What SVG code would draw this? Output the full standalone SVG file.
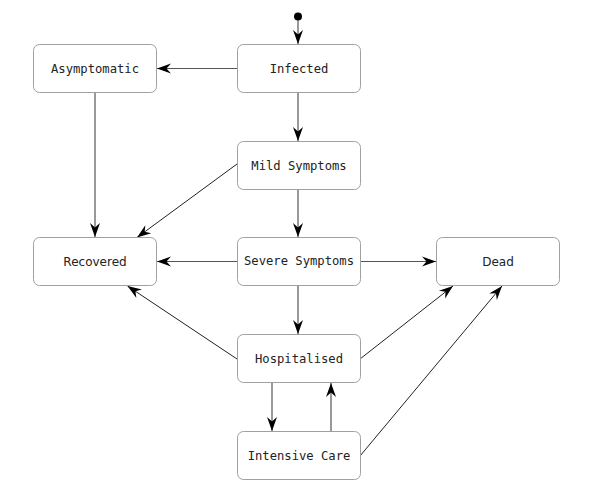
<svg xmlns="http://www.w3.org/2000/svg" width="589" height="498" viewBox="0 0 589 498">
<style>
.box{fill:#fff;stroke:#a0a0a0;stroke-width:1}
.t{font-family:"DejaVu Sans Mono","Liberation Mono",monospace;font-size:12.2px;fill:#222;text-anchor:middle}
.s{font-family:"DejaVu Sans","Liberation Sans",sans-serif;font-size:12px;fill:#222;text-anchor:middle}
.e{fill:none;stroke:#555;stroke-width:1.2;marker-end:url(#ah)}
.e2{fill:none;stroke:#222;stroke-width:1;marker-end:url(#ah)}
</style>
<defs>
<marker id="ah" markerUnits="userSpaceOnUse" markerWidth="16" markerHeight="12" viewBox="-15 -6 16 12" refX="0" refY="0" orient="auto">
<path d="M0,0 L-14,-5 L-9.5,0 L-14,5 Z" fill="#000"/>
</marker>
</defs>
<g id="connectors">
<circle cx="298" cy="16.5" r="4" fill="#000"/>
<line class="e" x1="298" y1="20" x2="298" y2="44"/>
<line class="e" x1="237" y1="68.5" x2="157" y2="68.5"/>
<line class="e" x1="298" y1="93" x2="298" y2="141"/>
<line class="e" x1="95" y1="93" x2="95" y2="237"/>
<line class="e2" x1="237" y1="164" x2="137" y2="237.5"/>
<line class="e" x1="298" y1="190" x2="298" y2="237"/>
<line class="e" x1="237" y1="261.5" x2="157" y2="261.5"/>
<line class="e" x1="360" y1="261.5" x2="436" y2="261.5"/>
<line class="e" x1="298" y1="286" x2="298" y2="334"/>
<line class="e2" x1="237" y1="359" x2="127.5" y2="286"/>
<line class="e2" x1="360" y1="359" x2="453" y2="286"/>
<line class="e" x1="272" y1="383" x2="272" y2="431"/>
<line class="e" x1="331" y1="431" x2="331" y2="383"/>
<line class="e2" x1="360" y1="456" x2="502" y2="286"/>
</g>
<g id="infected"><rect class="box" x="237.5" y="44.5" width="123" height="48" rx="6"/><text class="t" x="299" y="72.5">Infected</text></g>
<g id="asymptomatic"><rect class="box" x="33.5" y="44.5" width="123" height="48" rx="6"/><text class="t" x="95" y="72.5">Asymptomatic</text></g>
<g id="mild"><rect class="box" x="237.5" y="141.5" width="123" height="48" rx="6"/><text class="t" x="299" y="169.5">Mild Symptoms</text></g>
<g id="recovered"><rect class="box" x="33.5" y="237.5" width="123" height="48" rx="6"/><text class="s" x="95" y="266">Recovered</text></g>
<g id="severe"><rect class="box" x="237.5" y="237.5" width="123" height="48" rx="6"/><text class="t" x="299" y="265">Severe Symptoms</text></g>
<g id="dead"><rect class="box" x="436.5" y="237.5" width="123" height="48" rx="6"/><text class="s" x="498" y="266">Dead</text></g>
<g id="hospitalised"><rect class="box" x="237.5" y="334.5" width="123" height="48" rx="6"/><text class="t" x="299" y="362.5">Hospitalised</text></g>
<g id="icu"><rect class="box" x="237.5" y="431.5" width="123" height="48" rx="6"/><text class="t" x="299" y="459.5">Intensive Care</text></g>
</svg>
